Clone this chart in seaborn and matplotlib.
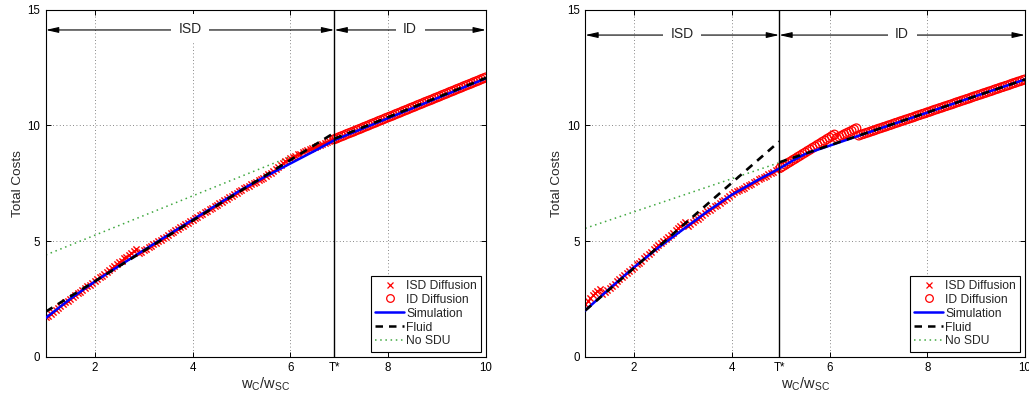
import numpy as np
import matplotlib
matplotlib.use("Agg")
import matplotlib.pyplot as plt
import seaborn as sns
from matplotlib.lines import Line2D

# ---------------- data ----------------
T_LEFT = 6.9
T_RIGHT = 4.97
X_TICKS_LEFT = [2, 4, 6, T_LEFT, 8, 10]
X_TICK_LABELS_LEFT = ["2", "4", "6", "T*", "8", "10"]
X_TICKS_RIGHT = [2, 4, T_RIGHT, 6, 8, 10]
X_TICK_LABELS_RIGHT = ["2", "4", "T*", "6", "8", "10"]
Y_TICKS = [0, 5, 10, 15]

# Left panel
sim_left_x = [1.0, 1.5, 2.0, 2.5, 3.0, 3.5, 4.0, 4.5, 5.0, 5.5, 6.0, 6.5, 6.9, 8.0, 9.0, 10.0]
sim_left_y = [1.68, 2.50, 3.25, 3.93, 4.60, 5.26, 5.92, 6.57, 7.22, 7.80, 8.35, 8.90, 9.36, 10.31, 11.17, 12.03]
fluid_isd_left_x = [1.0, 6.9]
fluid_isd_left_y = [1.95, 9.68]
fluid_id_left_x = [6.9, 10.0]
fluid_id_left_y = [9.42, 12.05]
nosdu_left_x = [1.0, 10.0]
nosdu_left_y = [4.40, 12.05]
isd_diff_left_start = 1.00
isd_diff_left_y = [
    1.70, 1.78, 1.86, 1.94, 2.02, 2.10, 2.18, 2.26, 2.35, 2.43,
    2.51, 2.59, 2.66, 2.74, 2.81, 2.89, 2.96, 3.04, 3.11, 3.19,
    3.27, 3.35, 3.43, 3.51, 3.59, 3.67, 3.76, 3.84, 3.92, 4.00,
    4.08, 4.16, 4.25, 4.33, 4.41, 4.50, 4.58, 4.66,
    4.47, 4.53, 4.60, 4.67, 4.73, 4.80, 4.86, 4.93, 5.00, 5.06,
    5.13, 5.19, 5.26, 5.33, 5.39, 5.46, 5.52, 5.59, 5.66, 5.72,
    5.79, 5.85, 5.92, 5.99, 6.05, 6.12, 6.18, 6.25, 6.31, 6.38,
    6.44, 6.51, 6.57, 6.64, 6.70, 6.77, 6.83, 6.90, 6.96, 7.03,
    7.09, 7.16, 7.22, 7.28, 7.34, 7.39, 7.45, 7.51, 7.57, 7.63,
    7.68, 7.74, 7.80,
    7.88, 7.96, 8.04, 8.12, 8.20, 8.28, 8.36, 8.44, 8.52, 8.60,
    8.65, 8.69, 8.74, 8.78, 8.83, 8.87, 8.92, 8.96, 9.01, 9.05,
    9.10, 9.15, 9.19, 9.24, 9.28, 9.33, 9.37, 9.42,
]
id_diff_left_start = 6.90
id_diff_left_y = [
    9.40, 9.44, 9.49, 9.53, 9.57, 9.62, 9.66, 9.70, 9.74, 9.79,
    9.83, 9.87, 9.92, 9.96, 10.00, 10.05, 10.09, 10.13, 10.18, 10.22,
    10.26, 10.31, 10.35, 10.39, 10.43, 10.48, 10.52, 10.56, 10.61, 10.65,
    10.69, 10.74, 10.78, 10.82, 10.87, 10.91, 10.95, 11.00, 11.04, 11.08,
    11.12, 11.17, 11.21, 11.25, 11.30, 11.34, 11.38, 11.43, 11.47, 11.51,
    11.56, 11.60, 11.64, 11.69, 11.73, 11.77, 11.81, 11.86, 11.90, 11.94,
    11.99, 12.03, 12.07,
]

# Right panel
sim_right_x = [1.0, 1.5, 2.0, 2.5, 3.0, 3.5, 4.0, 4.5, 4.97, 5.25, 5.5, 6.0, 7.0, 8.0, 9.0, 10.0]
sim_right_y = [2.00, 2.95, 3.87, 4.72, 5.50, 6.28, 7.00, 7.60, 8.13, 8.48, 8.76, 9.12, 9.84, 10.55, 11.27, 11.98]
fluid_isd_right_x = [1.0, 4.97]
fluid_isd_right_y = [2.00, 9.30]
fluid_id_right_x = [4.97, 10.0]
fluid_id_right_y = [8.40, 11.98]
nosdu_right_x = [1.0, 10.0]
nosdu_right_y = [5.55, 11.98]
isd_diff_right_start = 1.00
isd_diff_right_y = [
    2.30, 2.42, 2.53, 2.65, 2.76, 2.86, 2.95,
    2.70, 2.79, 2.89, 2.98, 3.07, 3.16, 3.26, 3.35, 3.44, 3.53,
    3.62, 3.72, 3.81, 3.90, 3.99, 4.07, 4.16,
    4.27, 4.36, 4.45, 4.54, 4.64, 4.73, 4.82, 4.91, 5.00, 5.10,
    5.19, 5.28, 5.37, 5.46, 5.56, 5.65, 5.74, 5.83,
    5.66, 5.73, 5.81, 5.89, 5.97, 6.05, 6.12, 6.20, 6.28, 6.35,
    6.42, 6.50, 6.57, 6.64, 6.71, 6.78, 6.86, 6.93, 7.02, 7.12,
    7.17, 7.20, 7.25, 7.30, 7.36, 7.42, 7.48, 7.54, 7.60, 7.66,
    7.71, 7.77, 7.83, 7.88, 7.94, 8.00, 8.05, 8.11,
]
id_diff_right_start = 5.00
id_diff_right_y = [
    8.17, 8.24, 8.30, 8.37, 8.43, 8.50, 8.56, 8.63, 8.69, 8.76,
    8.82, 8.89, 8.95, 9.02, 9.08, 9.15, 9.21, 9.28, 9.34, 9.41,
    9.47, 9.54, 9.60,
    9.45, 9.50, 9.55, 9.61, 9.66, 9.71, 9.76, 9.82, 9.87,
    9.56, 9.60, 9.63, 9.67, 9.70, 9.74, 9.77, 9.81, 9.85, 9.88,
    9.92, 9.95, 9.99, 10.02, 10.06, 10.10, 10.13, 10.17, 10.20, 10.24,
    10.27, 10.31, 10.34, 10.38, 10.42, 10.45, 10.49, 10.52, 10.56, 10.59,
    10.63, 10.67, 10.70, 10.74, 10.77, 10.81, 10.84, 10.88, 10.91, 10.95,
    10.99, 11.02, 11.06, 11.09, 11.13, 11.16, 11.20, 11.24, 11.27, 11.31,
    11.34, 11.38, 11.41, 11.45, 11.48, 11.52, 11.56, 11.59, 11.63, 11.66,
    11.70, 11.73, 11.77, 11.81, 11.84, 11.88, 11.91, 11.95, 11.98,
]
STEP = 0.05

LEGEND_LABELS = ["ISD Diffusion", "ID Diffusion", "Simulation", "Fluid", "No SDU"]

# ---------------- style ----------------
sns.set_style("ticks")
plt.rcParams["font.family"] = ["Liberation Sans", "DejaVu Sans"]
plt.rcParams["mathtext.fontset"] = "custom"
plt.rcParams["mathtext.rm"] = "Liberation Sans"
plt.rcParams["mathtext.default"] = "regular"

RED = "#ff0000"
BLUE = "#0000ff"
GREEN = "#40a840"
DASH = (0, (3.0, 2.4))

fig = plt.figure(figsize=(10.29, 4.0), dpi=100)
ax_l = fig.add_axes([0.0445, 0.108, 0.4278, 0.868])
ax_r = fig.add_axes([0.5687, 0.108, 0.4274, 0.868])


def xs(start, ys):
    return start + STEP * np.arange(len(ys))


def panel(ax, T, xticks, xticklabels, sim_x, sim_y, fisd_x, fisd_y, fid_x, fid_y,
          ns_x, ns_y, isd_start, isd_y, id_start, id_y, arrow_y):
    sns.lineplot(x=ns_x, y=ns_y, ax=ax, color=GREEN, lw=1.1, linestyle=(0, (1, 2.4)),
                 estimator=None, sort=False, zorder=1)
    sns.scatterplot(x=xs(isd_start, isd_y), y=isd_y, ax=ax, marker="x", color=RED,
                    s=20, linewidth=1.0, zorder=2)
    sns.scatterplot(x=xs(id_start, id_y), y=id_y, ax=ax, marker="o", facecolor="none",
                    edgecolor=RED, s=40, linewidth=0.9, zorder=2)
    sns.lineplot(x=sim_x, y=sim_y, ax=ax, color=BLUE, lw=1.8, estimator=None,
                 sort=False, zorder=3)
    sns.lineplot(x=fisd_x, y=fisd_y, ax=ax, color="black", lw=1.9, linestyle=DASH,
                 estimator=None, sort=False, zorder=4)
    sns.lineplot(x=fid_x, y=fid_y, ax=ax, color="black", lw=1.9, linestyle=DASH,
                 estimator=None, sort=False, zorder=4)
    ax.axvline(T, color="black", lw=1.0, zorder=5)

    ax.set_xlim(1, 10)
    ax.set_ylim(0, 15)
    ax.set_xticks(xticks)
    ax.set_xticklabels(xticklabels)
    ax.set_yticks(Y_TICKS)
    ax.tick_params(direction="in", top=True, right=True, length=3.5, width=0.7,
                   labelsize=8.3, pad=4, colors="black")
    ax.grid(True, linestyle=(0, (1, 3)), color="#606060", lw=0.6)
    for sp in ax.spines.values():
        sp.set_color("black")
        sp.set_linewidth(0.8)
        sp.set_visible(True)
    ax.set_xlabel("$w_C/w_{SC}$", fontsize=10.5, labelpad=1)
    ax.set_ylabel("Total Costs", fontsize=9.7, labelpad=2.5)

    # region arrows
    for x0, x1, lab in [(1.0, T, "ISD"), (T, 10.0, "ID")]:
        ax.annotate("", xy=(x0, arrow_y), xytext=(x1, arrow_y),
                    arrowprops=dict(arrowstyle="<|-|>,head_length=0.75,head_width=0.17",
                                    color="black", lw=0.8, shrinkA=0, shrinkB=0),
                    zorder=6)
        ax.text((x0 + x1) / 2, arrow_y + 0.05, lab, ha="center", va="center", fontsize=10,
                zorder=7, bbox=dict(boxstyle="square,pad=0.55", fc="white", ec="none"))

    handles = [
        Line2D([], [], ls="none", marker="x", color=RED, ms=4, mew=0.9),
        Line2D([], [], ls="none", marker="o", mfc="none", mec=RED, ms=5.5, mew=0.9),
        Line2D([], [], color=BLUE, lw=1.8),
        Line2D([], [], color="black", lw=1.8, ls=DASH),
        Line2D([], [], color=GREEN, lw=1.1, ls=(0, (1, 2.4))),
    ]
    leg = ax.legend(handles, LEGEND_LABELS, loc="lower right", fontsize=8.7,
                    frameon=True, fancybox=False, framealpha=1, edgecolor="black",
                    borderaxespad=0.42, handlelength=2.4, handletextpad=0.15,
                    labelspacing=0.16, borderpad=0.35)
    leg.get_frame().set_linewidth(0.8)
    leg.set_zorder(10)


panel(ax_l, T_LEFT, X_TICKS_LEFT, X_TICK_LABELS_LEFT, sim_left_x, sim_left_y,
      fluid_isd_left_x, fluid_isd_left_y, fluid_id_left_x, fluid_id_left_y,
      nosdu_left_x, nosdu_left_y, isd_diff_left_start, isd_diff_left_y,
      id_diff_left_start, id_diff_left_y, 14.12)
panel(ax_r, T_RIGHT, X_TICKS_RIGHT, X_TICK_LABELS_RIGHT, sim_right_x, sim_right_y,
      fluid_isd_right_x, fluid_isd_right_y, fluid_id_right_x, fluid_id_right_y,
      nosdu_right_x, nosdu_right_y, isd_diff_right_start, isd_diff_right_y,
      id_diff_right_start, id_diff_right_y, 13.9)

fig.savefig("out.png", dpi=100)
